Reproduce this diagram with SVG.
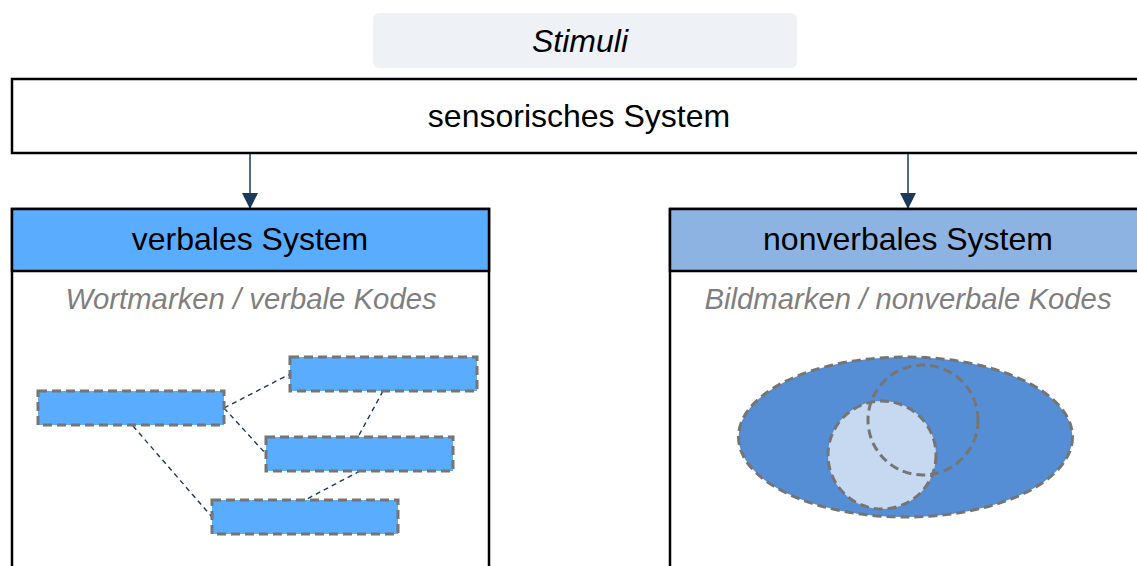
<svg xmlns="http://www.w3.org/2000/svg" width="1137" height="566" viewBox="0 0 1137 566">
<defs>
<style>
text{font-family:"Liberation Sans",Arial,sans-serif;text-anchor:middle}
.t{font-size:32px;fill:#000}
.sub{font-size:29.3px;fill:#7f7f7f;font-style:italic}
.box{stroke:#000;stroke-width:2.5}
.dash{stroke:#757575;stroke-width:3;stroke-dasharray:9 5}
.link{stroke:#1b3a5c;stroke-width:1.4;stroke-dasharray:5 4;fill:none}
.arr{stroke:#1b3a5c;stroke-width:1.5;fill:none}
</style>
<marker id="ah" viewBox="0 0 16 16" markerWidth="16" markerHeight="16" refX="16" refY="8" orient="auto" markerUnits="userSpaceOnUse">
<path d="M0,0 L16,8 L0,16 Z" fill="#1b3a5c"/>
</marker>
</defs>
<rect width="1137" height="566" fill="#fff"/>
<g id="stimuli">
<rect x="373" y="13" width="424" height="55" rx="6" fill="#eef2f7"/>
<text class="t" x="580" y="52" font-style="italic">Stimuli</text>
</g>
<g id="sensorisch">
<rect class="box" x="12" y="79" width="1140" height="74" fill="#fff"/>
<text class="t" x="579" y="127">sensorisches System</text>
</g>
<g id="connectors">
<line class="arr" x1="250" y1="154" x2="250" y2="209" marker-end="url(#ah)"/>
<line class="arr" x1="908" y1="154" x2="908" y2="209" marker-end="url(#ah)"/>
</g>
<g id="verbal">
<rect class="box" x="12" y="209" width="477" height="370" fill="#fff"/>
<rect class="box" x="12" y="209" width="477" height="62" fill="#5aacff"/>
<text class="t" x="250" y="250">verbales System</text>
<text class="sub" x="251" y="309">Wortmarken / verbale Kodes</text>
<g id="verbal-links">
<line class="link" x1="224" y1="408" x2="290" y2="374"/>
<line class="link" x1="224" y1="408" x2="266" y2="454"/>
<line class="link" x1="383" y1="391" x2="358" y2="437"/>
<line class="link" x1="360" y1="471" x2="305" y2="500"/>
<line class="link" x1="133" y1="426" x2="212" y2="517"/>
</g>
<rect class="dash" x="38" y="391" width="186" height="34" fill="#5aacff"/>
<rect class="dash" x="290" y="357" width="187" height="34" fill="#5aacff"/>
<rect class="dash" x="266" y="437" width="187" height="34" fill="#5aacff"/>
<rect class="dash" x="212" y="500" width="186" height="34" fill="#5aacff"/>
</g>
<g id="nonverbal">
<rect class="box" x="670" y="209" width="480" height="370" fill="#fff"/>
<rect class="box" x="670" y="209" width="480" height="62" fill="#8db3e2"/>
<text class="t" x="908" y="250">nonverbales System</text>
<text class="sub" x="908" y="309">Bildmarken / nonverbale Kodes</text>
<ellipse class="dash" cx="905.5" cy="437" rx="167" ry="80" fill="#558ed5"/>
<circle class="dash" cx="882" cy="455" r="54" fill="#c6d9f1"/>
<circle class="dash" cx="923" cy="420" r="55" fill="none"/>
</g>
</svg>
